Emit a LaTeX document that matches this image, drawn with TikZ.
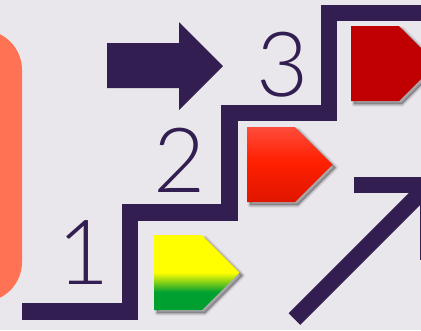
\documentclass[tikz,border=0pt]{standalone}
\usepackage{fontspec}
\setmainfont{Lato Light}
\definecolor{bg}{HTML}{E9E7EC}
\definecolor{ink}{HTML}{321E50}
\definecolor{salmon}{HTML}{FF7354}
\definecolor{darkred}{HTML}{C00000}
\definecolor{ty}{HTML}{FFFF00}
\definecolor{tg}{HTML}{00A030}
\definecolor{rt}{HTML}{FF4C3C}
\definecolor{rm}{HTML}{FF2000}
\definecolor{rb}{HTML}{E01600}
\pgfdeclareverticalshading{yellowgreen}{100bp}{color(0bp)=(tg); color(37bp)=(tg); color(50bp)=(ty); color(100bp)=(ty)}
\pgfdeclareverticalshading{redgrad}{100bp}{color(0bp)=(rb); color(25bp)=(rb); color(52bp)=(rm); color(75bp)=(rt); color(100bp)=(rt)}
\tikzset{
  digit/.style={text=ink, font=\fontsize{90}{90}\selectfont, inner sep=0pt},
  stair/.style={draw=ink, line width=16.5pt, line join=miter},
  shadowlayer/.style={fill=black, draw=black, fill opacity=0.07, draw opacity=0.07, line width=#1, line join=round},
}
% tag outline: #1 = left x, #2 = top y
\newcommand{\tagpath}[2]{(#1,#2) -- ++(48,0) -- ++(37.5,37.5) -- ++(-37.5,37.5) -- ++(-48,0) -- cycle}
\newcommand{\tagshadow}[2]{%
  \foreach \w in {0.5,2,3.5,5}{\path[shadowlayer=\w pt] \tagpath{#1+3}{#2+3};}%
}
\begin{document}
\begin{tikzpicture}[x=1pt,y=-1pt]
\fill[bg] (0,0) rectangle (421,330);
\useasboundingbox (0,0) rectangle (421,330);
% orange panel
\fill[salmon, rounded corners=40pt] (-60,30) rectangle (22,302);
% big right arrow
\fill[ink] (107,43) -- (179,43) -- (179,22) -- (223,66) -- (179,110) -- (179,88) -- (107,88) -- cycle;
% stairs
\draw[stair] (22,311.5) -- (130,311.5) -- (130,212.5) -- (229.5,212.5) -- (229.5,113) -- (329,113) -- (329,13) -- (440,13);
% diagonal arrow
\draw[stair] (294.5,319) -- (428,185.5);
\draw[stair] (354,185) -- (428,185) -- (428,260);
% tags
\tagshadow{154}{235}
\shade[shading=yellowgreen] \tagpath{154}{235};
\tagshadow{247}{127}
\shade[shading=redgrad] \tagpath{247}{127};
\tagshadow{351}{26}
\fill[darkred] \tagpath{351}{26};
% digits
\node[digit] (d1) at (83.5,252.5) {1};
\node[digit] (d2) at (180,160) {2};
\node[digit] (d3) at (282.5,65) {3};
\end{tikzpicture}
\end{document}
